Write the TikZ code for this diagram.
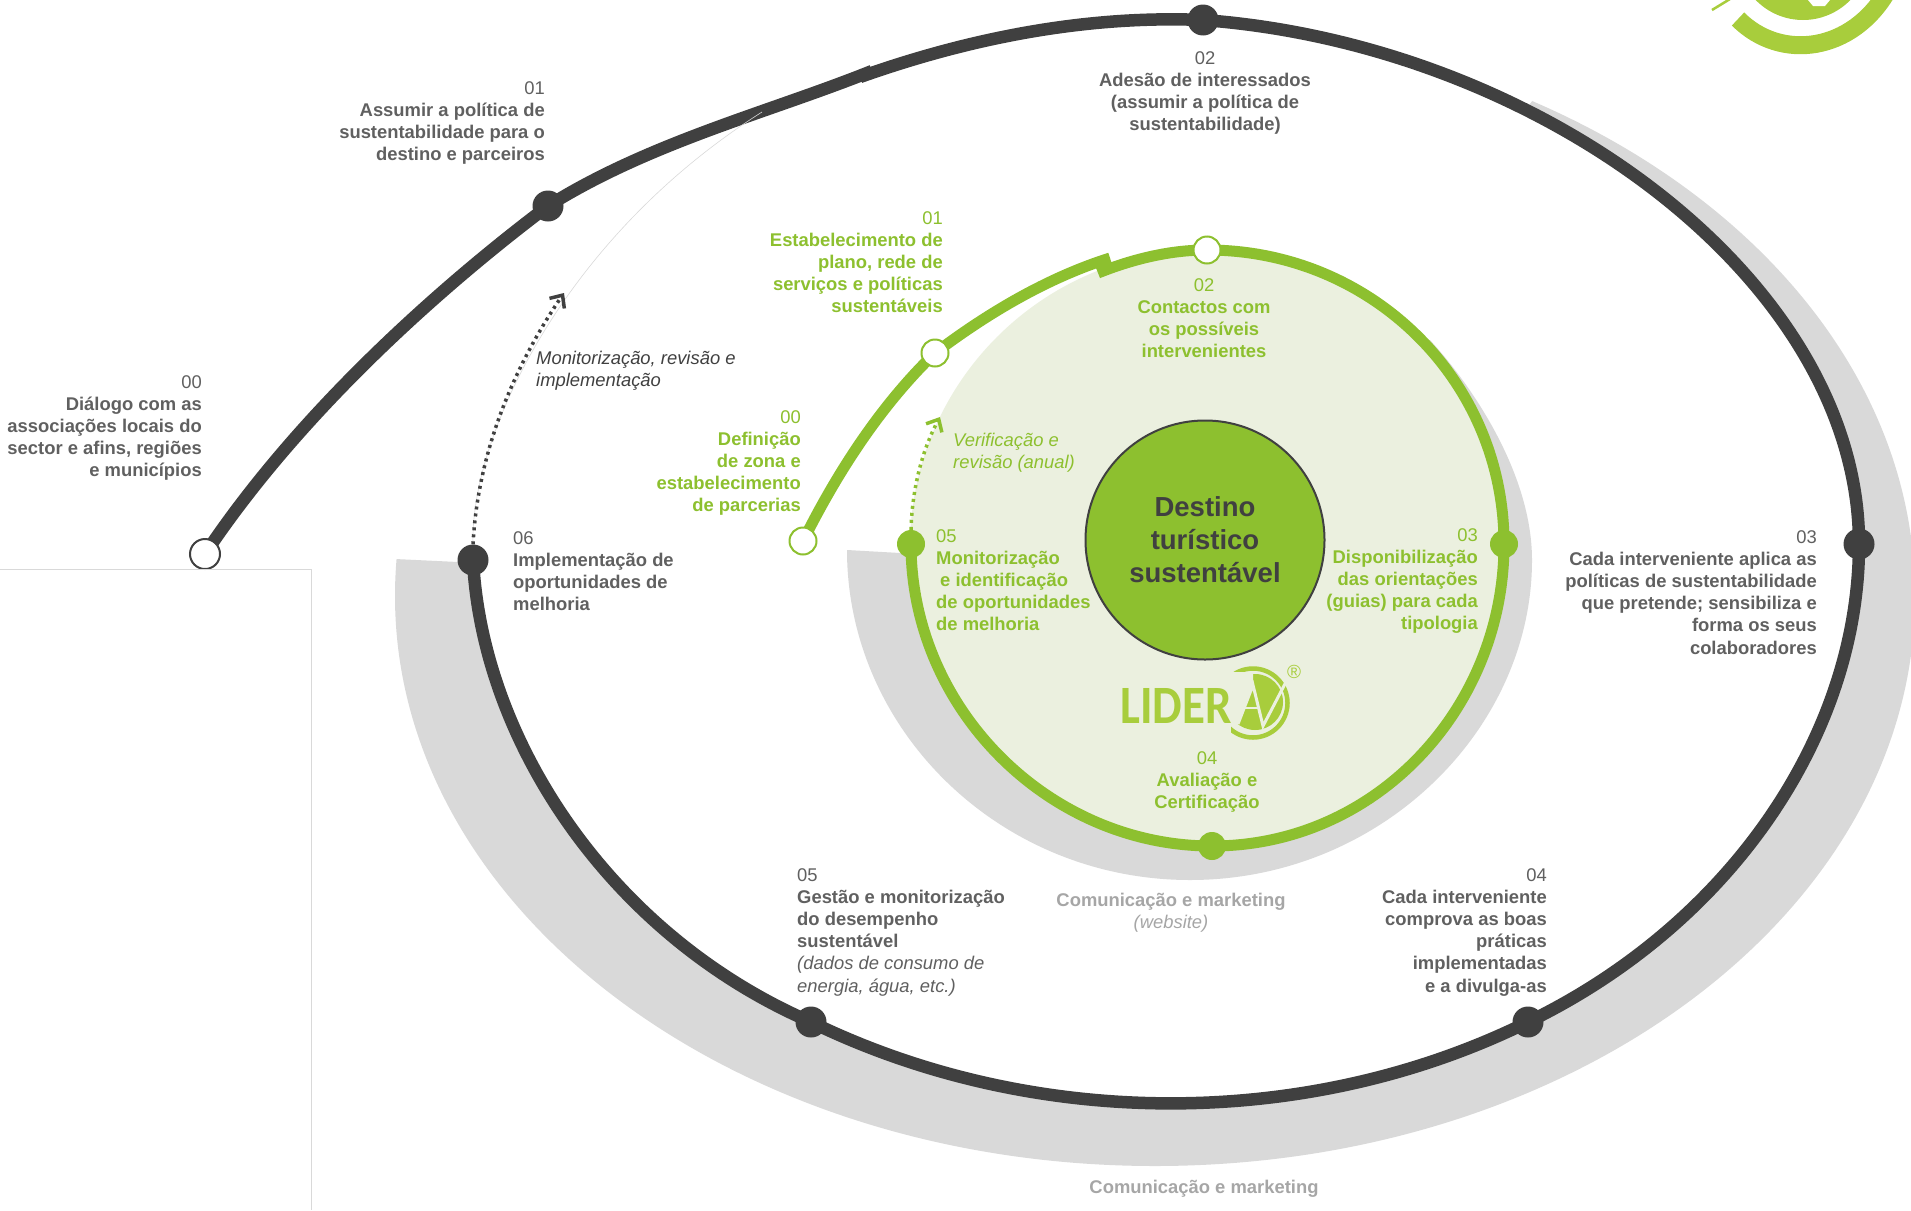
\documentclass[tikz,border=0pt]{standalone}
\usepackage{fontspec}
\setmainfont{Liberation Sans}
\newfontfamily\logofont{Carlito}
\usetikzlibrary{arrows.meta,backgrounds}
\definecolor{darkline}{HTML}{404040}
\definecolor{textgray}{HTML}{606060}
\definecolor{mutegray}{HTML}{A6A6A6}
\definecolor{shadowgray}{HTML}{D9D9D9}
\definecolor{leaf}{HTML}{8DC02F}
\definecolor{pale}{HTML}{EBF0DF}
\definecolor{logogreen}{HTML}{A8CD3C}
\newcommand{\stepno}[1]{{\mdseries #1}}
\begin{document}
\begin{tikzpicture}[x=1pt,y=-1pt,
    darkdot/.style={circle, fill=darkline, inner sep=0pt, minimum size=31pt},
    darkopen/.style={circle, draw=darkline, fill=white, line width=2pt, inner sep=0pt, minimum size=30pt},
    leafdot/.style={circle, fill=leaf, inner sep=0pt, minimum size=28pt},
    leafopen/.style={circle, draw=leaf, fill=white, line width=2pt, inner sep=0pt, minimum size=27pt},
    darktrack/.style={draw=darkline, line width=12.5pt},
    leaftrack/.style={draw=leaf, line width=11pt},
    lbl/.style={inner sep=0pt, font=\fontsize{18.4}{22.2}\selectfont\bfseries},
    darklbl/.style={lbl, text=textgray},
    leaflbl/.style={lbl, text=leaf},
    notelbl/.style={inner sep=0pt, font=\fontsize{18.4}{22.2}\selectfont\itshape},
    dotarrow/.style={dash pattern=on 3pt off 4pt, line width=3.5pt, -{Straight Barb[length=10pt,width=18pt,line width=3.5pt]}}]
    \useasboundingbox (0,0) rectangle (1911,1210);

    \node[darkopen] (d00) at (205,554) {};
    \node[darkdot] (d01) at (548,206) {};
    \node[darkdot] (d02) at (1203,20) {};
    \node[darkdot] (d03) at (1859,544) {};
    \node[darkdot] (d04) at (1528,1022) {};
    \node[darkdot] (d05) at (811,1022) {};
    \node[darkdot] (d06) at (473,560) {};
    \coordinate (dkink) at (860,77);
    \coordinate (dend) at (872,71);
    \coordinate (dtip) at (564,293);

    \node[leafopen] (g00) at (803,541) {};
    \node[leafopen] (g01) at (935,353) {};
    \node[leafopen] (g02) at (1207,250) {};
    \node[leafdot] (g03) at (1504,544) {};
    \node[leafdot] (g04) at (1212,846) {};
    \node[leafdot] (g05) at (911,544) {};
    \coordinate (gkink) at (1098,273);
    \coordinate (gend) at (1110,258);
    \coordinate (gtip) at (940,417);

    \begin{scope}[on background layer]
        \begin{scope}
            \clip (395,559) -- (458,562) -- (473,563) -- (1166,562) -- (1533,100) -- (1960,0) -- (1960,1210) -- (395,1210) -- cycle;
            \fill[shadowgray] (1155,596) ellipse [x radius=760pt, y radius=570pt];
        \end{scope}
        \path[darktrack, fill=white] (d06.center) .. controls (482,740) and (610,935) .. (d05.center)
            .. controls (1033,1130) and (1307,1131) .. (d04.center)
            .. controls (1732,923) and (1859,733) .. (d03.center)
            .. controls (1859,280) and (1540,45) .. (d02.center)
            .. controls (1084,15) and (967,39) .. (dkink);
        \draw[darktrack] (d00.center) .. controls (295,419) and (430,295) .. (d01.center);
        \draw[darktrack] (d01.center) .. controls (650,142) and (770,112) .. (dend);
        \draw[shadowgray, line width=0.6pt] (d06.north) .. controls (470,440) and (560,240) .. (762,112);

        \fill[shadowgray] (1430,340) .. controls (1480,395) and (1532,480) .. (1532,560)
            .. controls (1532,730) and (1380,880) .. (1190,880)
            .. controls (1000,880) and (847,730) .. (847,550)
            -- (900,553) -- (911,554) -- (1207,547) -- cycle;
        \fill[pale] (1207,547) circle [radius=297pt];
        \draw[leaftrack] (g05.center) .. controls (911,708) and (1048,846) .. (g04.center)
            .. controls (1376,846) and (1504,708) .. (g03.center)
            .. controls (1504,380) and (1371,250) .. (g02.center)
            .. controls (1170,250) and (1133,259) .. (gkink);
        \draw[leaftrack] (g00.center) .. controls (837,473) and (880,406) .. (g01.center);
        \draw[leaftrack] (g01.center) .. controls (988,313) and (1047,278) .. (gend);
    \end{scope}

    \draw[darkline, dotarrow] (d06.north) .. controls (478,450) and (515,365) .. (dtip);
    \draw[leaf, dotarrow] (g05.north) .. controls (912,490) and (922,450) .. (gtip);
    \draw[shadowgray, line width=1pt] (0,569) -| (311,1210);

    \fill[logogreen] (1803,-46) circle [radius=66pt];
    \draw[logogreen, line width=18pt] (1738,19) .. controls (1781,62) and (1853,52) .. (1888,-10);
    \draw[logogreen, line width=2.5pt] (1712,10) -- (1730,-1);
    \fill[white] (1808,0) -- (1813,6) -- (1825,6) -- (1830,0) -- cycle;

    \begin{scope}
        \clip (1231,660) rectangle (1300,750);
        \draw[logogreen, line width=4.5pt] (1253,703) circle [radius=34.5pt];
    \end{scope}
    \fill[logogreen] (1255,702) circle [radius=28pt];
    \fill[pale] (1238,724) -- (1253,685) -- (1253,672) -- (1225,672) -- (1225,728) -- cycle;
    \draw[pale, line width=3pt] (1238,724) -- (1253,685) -- (1263,726) -- (1287,680);
    \draw[pale, line width=2.5pt] (1245,708) -- (1258,708);

    \node[circle, fill=leaf, draw=darkline, line width=2pt, minimum size=239pt, inner sep=0pt,
        align=center, text=darkline, font=\fontsize{27.5}{33}\selectfont\bfseries] (hub) at (1205,540) {Destino\\tur\'istico\\sustent\'avel};
    \node[inner sep=0pt, anchor=east, text=logogreen, font=\logofont\bfseries\fontsize{54}{54}\selectfont] (logotext) at (1232,706) {\scalebox{0.87}[1]{LIDER}};
    \node[inner sep=0pt, text=logogreen, font=\fontsize{19}{19}\selectfont] (logoreg) at (1294,672) {®};

    \node[darklbl, anchor=north east, align=right] (t00) at (202,375) {\stepno{00}\\Di\'alogo com as\\associa\c{c}\~oes locais do\\sector e afins, regi\~oes\\e munic\'ipios};
    \node[darklbl, anchor=north east, align=right] (t01) at (545,81) {\stepno{01}\\Assumir a pol\'itica de\\sustentabilidade para o\\destino e parceiros};
    \node[darklbl, anchor=north, align=center] (t02) at (1205,51) {\stepno{02}\\Ades\~ao de interessados\\(assumir a pol\'itica de\\sustentabilidade)};
    \node[darklbl, anchor=north east, align=right] (t03) at (1817,530) {\stepno{03}\\Cada interveniente aplica as\\pol\'iticas de sustentabilidade\\que pretende; sensibiliza e\\forma os seus\\colaboradores};
    \node[darklbl, anchor=north east, align=right] (t04) at (1547,868) {\stepno{04}\\Cada interveniente\\comprova as boas\\pr\'aticas\\implementadas\\e a divulga-as};
    \node[darklbl, anchor=north west, align=left] (t05) at (797,868) {\stepno{05}\\Gest\~ao e monitoriza\c{c}\~ao\\do desempenho\\sustent\'avel\\{\mdseries\itshape (dados de consumo de}\\{\mdseries\itshape energia, \'agua, etc.)}};
    \node[darklbl, anchor=north west, align=left] (t06) at (513,531) {\stepno{06}\\Implementa\c{c}\~ao de\\oportunidades de\\melhoria};
    \node[notelbl, anchor=north west, align=left, text=darkline] (tnote) at (536,351) {Monitoriza\c{c}\~ao, revis\~ao e\\implementa\c{c}\~ao};

    \node[leaflbl, anchor=north east, align=right] (l00) at (801,410) {\stepno{00}\\Defini\c{c}\~ao\\de zona e\\estabelecimento\\de parcerias};
    \node[leaflbl, anchor=north east, align=right] (l01) at (943,211) {\stepno{01}\\Estabelecimento de\\plano, rede de\\servi\c{c}os e pol\'iticas\\sustent\'aveis};
    \node[leaflbl, anchor=north, align=center] (l02) at (1204,278) {\stepno{02}\\Contactos com\\os poss\'iveis\\intervenientes};
    \node[leaflbl, anchor=north east, align=right] (l03) at (1478,528) {\stepno{03}\\Disponibiliza\c{c}\~ao\\das orienta\c{c}\~oes\\(guias) para cada\\tipologia};
    \node[leaflbl, anchor=north, align=center] (l04) at (1207,751) {\stepno{04}\\Avalia\c{c}\~ao e\\Certifica\c{c}\~ao};
    \node[leaflbl, anchor=north west, align=left] (l05) at (936,529) {\stepno{05}\\Monitoriza\c{c}\~ao\\\hspace*{4pt}e identifica\c{c}\~ao\\de oportunidades\\de melhoria};
    \node[notelbl, anchor=north west, align=left, text=leaf] (lnote) at (953,433) {Verifica\c{c}\~ao e\\revis\~ao (anual)};

    \node[lbl, anchor=north, align=center, text=mutegray] (c01) at (1171,893) {Comunica\c{c}\~ao e marketing\\{\mdseries\itshape (website)}};
    \node[lbl, text=mutegray] (c02) at (1204,1189) {Comunica\c{c}\~ao e marketing};
\end{tikzpicture}
\end{document}
